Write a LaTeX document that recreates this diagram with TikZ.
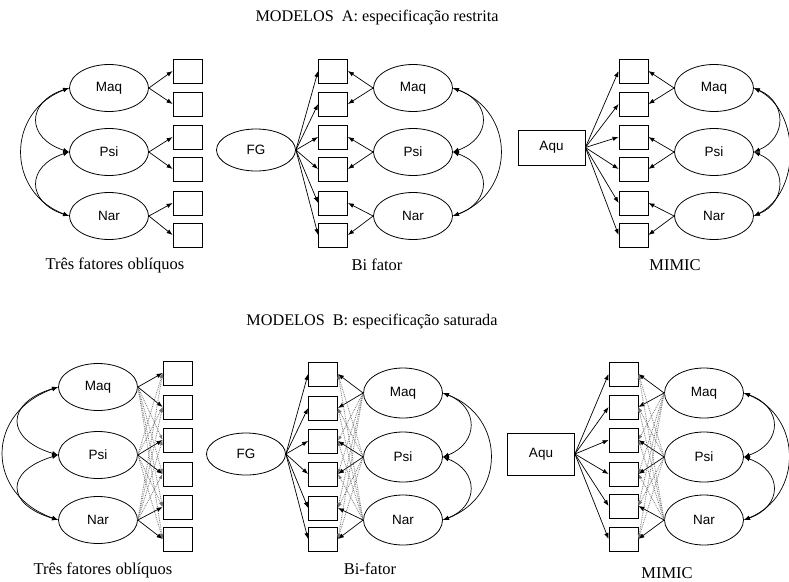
\documentclass[tikz,border=0pt]{standalone}
\usepackage{fontspec}
\setmainfont{Liberation Serif}
\setsansfont{Liberation Sans}
\usetikzlibrary{shapes.geometric,arrows.meta}
\begin{document}
\begin{tikzpicture}[x=1pt,y=-1pt,
  lat/.style={ellipse,draw,line width=0.8pt,minimum width=79pt,minimum height=47pt,inner sep=0pt,
              font=\sffamily\fontsize{13.5}{14}\selectfont},
  gen/.style={lat,minimum height=42pt},
  obs/.style={rectangle,draw,line width=0.8pt,minimum width=29pt,minimum height=24pt,inner sep=0pt},
  cause/.style={rectangle,draw,line width=0.8pt,minimum width=67pt,inner sep=0pt,
                font=\sffamily\fontsize{13.5}{14}\selectfont},
  tip/.tip={Latex[length=6pt,width=4.5pt]},
  load/.style={line width=0.7pt,-tip},
  cov/.style={line width=0.7pt,tip-tip},
  cross/.style={black!55,line width=0.8pt,densely dotted,-{Latex[length=5pt,width=3.5pt]}},
  ttl/.style={font=\fontsize{16.2}{17}\selectfont},
  capt/.style={font=\fontsize{16.5}{17}\selectfont}]
\useasboundingbox (0,0) rectangle (789,581);

% ---------------- titles ----------------
\node[ttl] (tA) at (377,18) {MODELOS\ \ A: especificação restrita};
\node[ttl] (tB) at (372,322) {MODELOS\ \ B: especificação saturada};

% ================= MODELS A =================
% --- three oblique factors ---
\foreach \y [count=\i] in {71,104,137,169,203,235}
  \node[obs] (a1x\i) at (187.5,\y) {};
\node[lat] (a1maq) at (109,88)  {Maq};
\node[lat] (a1psi) at (109,152) {Psi};
\node[lat] (a1nar) at (109,216) {Nar};
\foreach \f/\a/\b in {maq/1/2,psi/3/4,nar/5/6}{
  \draw[load] (a1\f.east) -- (a1x\a.west);
  \draw[load] (a1\f.east) -- (a1x\b.west);
}
\draw[cov] (a1maq.west) .. controls +(-43,14) and +(-43,-14) .. (a1psi.west);
\draw[cov] (a1psi.west) .. controls +(-43,14) and +(-43,-14) .. (a1nar.west);
\draw[cov] (a1maq.west) .. controls +(-63,24) and +(-63,-24) .. (a1nar.west);
\node[capt] (c1) at (115,265) {Três fatores oblíquos};

% --- bifactor ---
\foreach \y [count=\i] in {71,104,137,169,203,235}
  \node[obs] (a2x\i) at (333,\y) {};
\node[gen] (a2g) at (256,150) {FG};
\node[lat] (a2maq) at (413,88)  {Maq};
\node[lat] (a2psi) at (413,152) {Psi};
\node[lat] (a2nar) at (413,216) {Nar};
\foreach \i in {1,...,6}
  \draw[load] (a2g.east) -- (a2x\i.west);
\foreach \f/\a/\b in {maq/1/2,psi/3/4,nar/5/6}{
  \draw[load] (a2\f.west) -- (a2x\a.east);
  \draw[load] (a2\f.west) -- (a2x\b.east);
}
\draw[cov] (a2maq.east) .. controls +(39,14) and +(39,-14) .. (a2psi.east);
\draw[cov] (a2psi.east) .. controls +(39,14) and +(39,-14) .. (a2nar.east);
\draw[cov] (a2maq.east) .. controls +(63,24) and +(63,-24) .. (a2nar.east);
\node[capt] (c2) at (377,265) {Bi fator};

% --- MIMIC ---
\foreach \y [count=\i] in {71,104,137,169,203,235}
  \node[obs] (a3x\i) at (633.5,\y) {};
\node[cause,minimum height=35pt] (a3q) at (551.5,147.5) {Aqu};
\node[lat] (a3maq) at (714,88)  {Maq};
\node[lat] (a3psi) at (714,152) {Psi};
\node[lat] (a3nar) at (714,216) {Nar};
\foreach \i in {1,...,6}
  \draw[load] (a3q.east) -- (a3x\i.west);
\foreach \f/\a/\b in {maq/1/2,psi/3/4,nar/5/6}{
  \draw[load] (a3\f.west) -- (a3x\a.east);
  \draw[load] (a3\f.west) -- (a3x\b.east);
}
\draw[cov] (a3maq.east) .. controls +(33,14) and +(33,-14) .. (a3psi.east);
\draw[cov] (a3psi.east) .. controls +(33,14) and +(33,-14) .. (a3nar.east);
\draw[cov] (a3maq.east) .. controls +(47,24) and +(47,-24) .. (a3nar.east);
\node[capt] (c3) at (675,265) {MIMIC};

% ================= MODELS B =================
% --- three oblique factors, saturated ---
\foreach \y [count=\i] in {373,407,440,474,507,539}
  \node[obs] (b1x\i) at (177.5,\y) {};
\node[lat] (b1maq) at (98,387) {Maq};
\node[lat] (b1psi) at (98,455) {Psi};
\node[lat] (b1nar) at (98,520) {Nar};
\foreach \f/\a/\b/\c/\d/\e/\g in {maq/1/2/3/4/5/6,psi/3/4/1/2/5/6,nar/5/6/1/2/3/4}{
  \foreach \k in {\c,\d,\e,\g}
    \draw[cross] (b1\f.east) -- (b1x\k.west);
  \draw[load] (b1\f.east) -- (b1x\a.west);
  \draw[load] (b1\f.east) -- (b1x\b.west);
}
\draw[cov] (b1maq.west) .. controls +(-53,16) and +(-53,-16) .. (b1psi.west);
\draw[cov] (b1psi.west) .. controls +(-53,16) and +(-53,-16) .. (b1nar.west);
\draw[cov] (b1maq.west) .. controls +(-73,26) and +(-73,-26) .. (b1nar.west);
\node[capt] (c4) at (103,570) {Três fatores oblíquos};

% --- bifactor, saturated ---
\foreach \y [count=\i] in {374,408,441,474,508,539}
  \node[obs] (b2x\i) at (323,\y) {};
\node[gen] (b2g) at (246,454) {FG};
\node[lat,minimum height=50pt] (b2maq) at (403,393) {Maq};
\node[lat,minimum height=50pt] (b2psi) at (403,457) {Psi};
\node[lat,minimum height=50pt] (b2nar) at (403,520) {Nar};
\foreach \i in {1,...,6}
  \draw[load] (b2g.east) -- (b2x\i.west);
\foreach \f/\a/\b/\c/\d/\e/\g in {maq/1/2/3/4/5/6,psi/3/4/1/2/5/6,nar/5/6/1/2/3/4}{
  \foreach \k in {\c,\d,\e,\g}
    \draw[cross] (b2\f.west) -- (b2x\k.east);
  \draw[load] (b2\f.west) -- (b2x\a.east);
  \draw[load] (b2\f.west) -- (b2x\b.east);
}
\draw[cov] (b2maq.east) .. controls +(36,14) and +(36,-14) .. (b2psi.east);
\draw[cov] (b2psi.east) .. controls +(36,14) and +(36,-14) .. (b2nar.east);
\draw[cov] (b2maq.east) .. controls +(63,24) and +(63,-24) .. (b2nar.east);
\node[capt] (c5) at (370,569) {Bi-fator};

% --- MIMIC, saturated ---
\foreach \y [count=\i] in {374,407,440,474,506,539}
  \node[obs] (b3x\i) at (623.5,\y) {};
\node[cause,minimum height=42pt] (b3q) at (541,454) {Aqu};
\node[lat,minimum height=50pt] (b3maq) at (704,393) {Maq};
\node[lat,minimum height=50pt] (b3psi) at (704,457) {Psi};
\node[lat,minimum height=50pt] (b3nar) at (704,520) {Nar};
\foreach \i in {1,...,6}
  \draw[load] (b3q.east) -- (b3x\i.west);
\foreach \f/\a/\b/\c/\d/\e/\g in {maq/1/2/3/4/5/6,psi/3/4/1/2/5/6,nar/5/6/1/2/3/4}{
  \foreach \k in {\c,\d,\e,\g}
    \draw[cross] (b3\f.west) -- (b3x\k.east);
  \draw[load] (b3\f.west) -- (b3x\a.east);
  \draw[load] (b3\f.west) -- (b3x\b.east);
}
\draw[cov] (b3maq.east) .. controls +(39,14) and +(39,-14) .. (b3psi.east);
\draw[cov] (b3psi.east) .. controls +(39,14) and +(39,-14) .. (b3nar.east);
\draw[cov] (b3maq.east) .. controls +(59,24) and +(59,-24) .. (b3nar.east);
\node[capt] (c6) at (667,573) {MIMIC};
\end{tikzpicture}
\end{document}
